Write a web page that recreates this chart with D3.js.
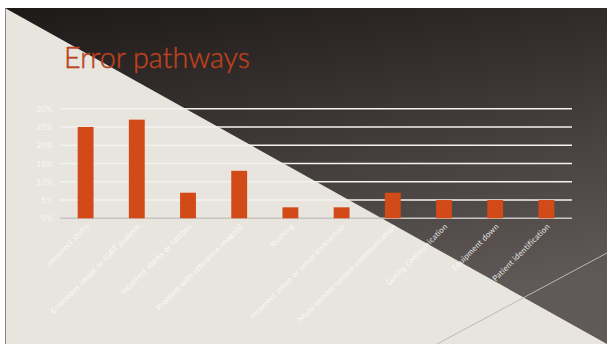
<!DOCTYPE html>
<html><head><meta charset="utf-8">
<script src="https://cdn.jsdelivr.net/npm/d3@7"></script>
<style>html,body{margin:0;padding:0;background:#fff;overflow:hidden}</style>
</head><body>
<svg id="c" width="607" height="344"></svg>
<script>
const title = "Error pathways";
const categories = ["Incorrect shifts","Erroneous image or IGRT analysis","Incorrect marks or tattoos","Problem with reference image(s)","Rushing","Incorrect setup or setup instruction","Multi-vendor system communication","Gating communication","Equipment down","Patient identification"];
const values = [0.25,0.27,0.07,0.13,0.03,0.03,0.07,0.05,0.05,0.05];
const yTicks = [0,0.05,0.10,0.15,0.20,0.25,0.30];

const svg = d3.select("#c");
const defs = svg.append("defs");
const g = defs.append("linearGradient").attr("id","bg").attr("x1",0).attr("y1",0).attr("x2",0.3).attr("y2",1);
g.append("stop").attr("offset","0%").attr("stop-color","#1d1918");
g.append("stop").attr("offset","100%").attr("stop-color","#605957");

// slide background
svg.append("rect").attr("x",5).attr("y",8).attr("width",602).attr("height",336).attr("fill","url(#bg)");
svg.append("polygon").attr("points","5,8 607,344 5,344").attr("fill","#e8e4de");
svg.append("line").attr("x1",5.5).attr("y1",8).attr("x2",5.5).attr("y2",344).attr("stroke","#8a8684").attr("stroke-width",1);
svg.append("line").attr("x1",437).attr("y1",344).attr("x2",607).attr("y2",253).attr("stroke","#bdb8b3").attr("stroke-width",1);

// title
svg.append("text").attr("x",64).attr("y",68).text(title)
  .attr("font-family","Lato, 'DejaVu Sans', sans-serif").attr("font-size",30).attr("font-weight",300)
  .attr("fill","#d04a1e").attr("stroke","#a8391a").attr("stroke-width",0.5)
  .attr("textLength",186).attr("lengthAdjust","spacingAndGlyphs");

const x = d3.scaleBand().domain(categories).range([60,572]).paddingInner(0.69).paddingOuter(0.345);
const y = d3.scaleLinear().domain([0,0.30]).range([218.3,108.7]);

// gridlines
svg.append("g").selectAll("line").data(yTicks).join("line")
  .attr("x1",60).attr("x2",572).attr("y1",d=>y(d)).attr("y2",d=>y(d))
  .attr("stroke",d=>d===0?"#c9c5c1":"#f4f2ef").attr("stroke-width",1.5);

// y axis labels
const yAxis = d3.axisLeft(y).tickValues(yTicks).tickFormat(d3.format(".0%")).tickSize(0).tickPadding(0);
const ya = svg.append("g").attr("transform","translate(53,0)").call(yAxis);
ya.select(".domain").remove();
ya.selectAll("text").attr("font-family","Lato, 'DejaVu Sans', sans-serif").attr("font-size",8).attr("letter-spacing",0.3).attr("fill","#ffffff").attr("opacity",0.75);

// bars
svg.append("g").selectAll("rect").data(values).join("rect")
  .attr("x",(d,i)=>x(categories[i])).attr("width",x.bandwidth())
  .attr("y",d=>y(d)).attr("height",d=>y(0)-y(d)).attr("fill","#d24a17");

// x axis labels
const xAxis = d3.axisBottom(x).tickSize(0).tickPadding(0);
const xa = svg.append("g").attr("transform","translate(0,218)").call(xAxis);
xa.select(".domain").remove();
xa.selectAll("text")
  .attr("font-family","Lato, 'DejaVu Sans', sans-serif").attr("font-size",8).attr("letter-spacing",0.2).attr("fill","#ffffff").attr("opacity",0.85)
  .attr("text-anchor","end").attr("dy",null).attr("y",0)
  .attr("transform","translate(4,9) rotate(-45)");
</script>
</body></html>
